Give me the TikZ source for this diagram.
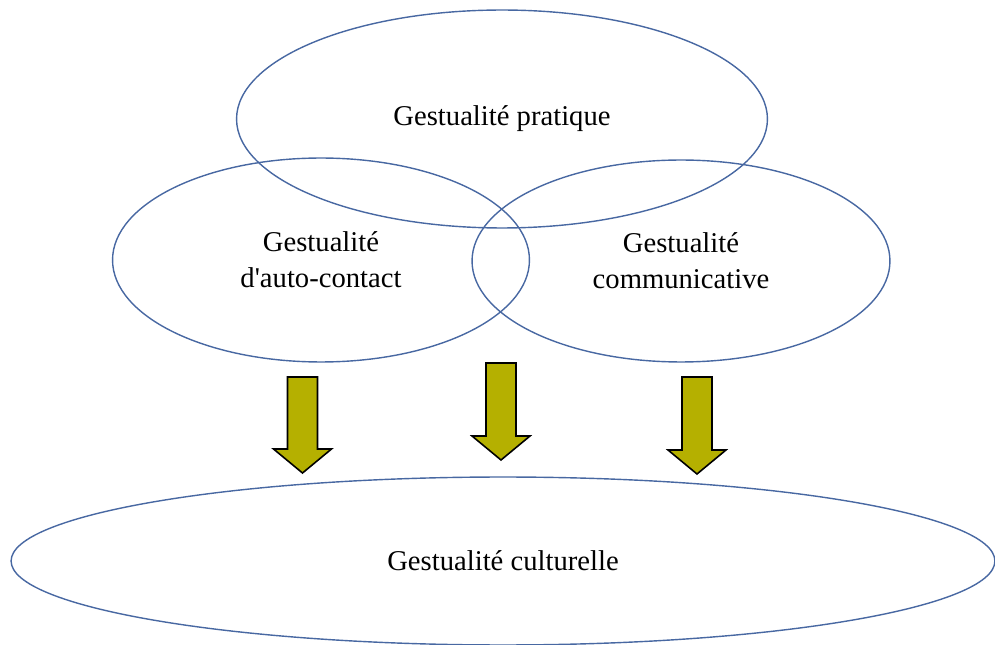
\documentclass[tikz,border=0pt]{standalone}
\usepackage{fontspec}
\setmainfont{Liberation Serif}
\usetikzlibrary{shapes.geometric, positioning}

\definecolor{ringblue}{RGB}{72,104,162}
\definecolor{arrowolive}{RGB}{181,176,0}

\tikzset{
	gest/.style = {
		ellipse, draw=ringblue, line width=0.8pt,
		inner sep=0pt, align=center,
		font=\fontsize{16.3}{20.5}\selectfont
	},
	blockarrow/.style = {
		draw=black, line width=0.9pt, fill=arrowolive, line join=miter
	}
}

% x center, top of shaft, tip
\newcommand{\gestarrow}[3]{%
	\draw[blockarrow] (#1-15,#2) -- (#1+15,#2) -- (#1+15,#3-24)
	-- (#1+29,#3-24) -- (#1,#3) -- (#1-29,#3-24) -- (#1-15,#3-24) -- cycle;
}

\begin{document}
\begin{tikzpicture}[x=0.02cm, y=-0.02cm]
	\useasboundingbox (0,0) rectangle (995,645);
	\node (cult) [gest, minimum width=19.68cm, minimum height=3.36cm] at (503,561) {Gestualité culturelle};
	\node (prat) [gest, minimum width=10.62cm, minimum height=4.36cm] at (502,119) {Gestualité pratique};
	\node (auto) [gest, minimum width=8.34cm, minimum height=4.08cm] at (321,260) {Gestualité\\d\textquotesingle auto-contact};
	\node (comm) [gest, minimum width=8.36cm, minimum height=4.04cm] at (681,261) {Gestualité\\communicative};
	\gestarrow{302.5}{377}{473}
	\gestarrow{501}{363}{460}
	\gestarrow{697}{377}{474}
\end{tikzpicture}
\end{document}
